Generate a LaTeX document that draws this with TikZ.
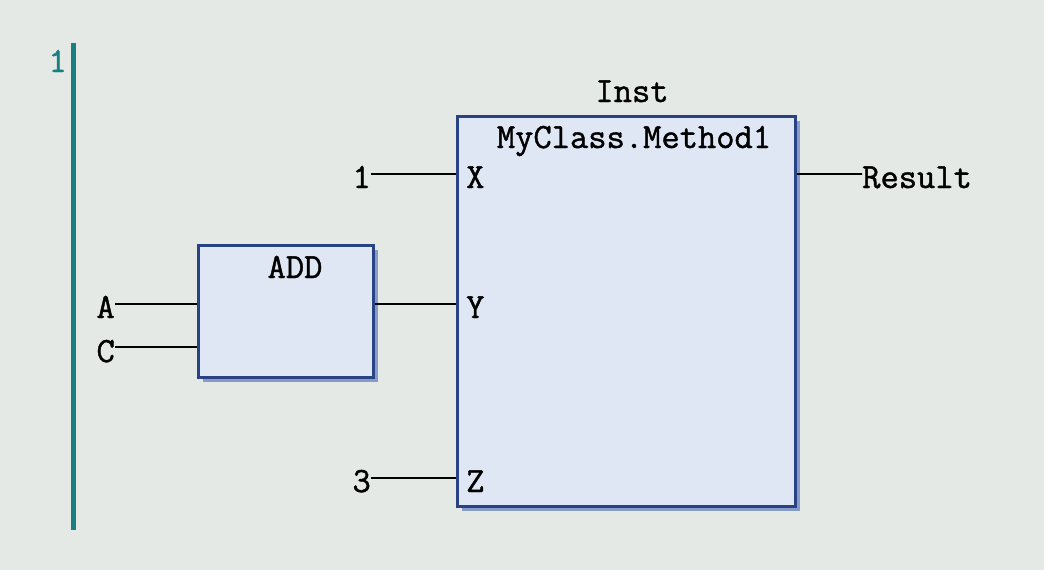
\documentclass[tikz,border=0pt]{standalone}
\usepackage{fontspec}
\newfontfamily\plcfont[FakeBold=1.2]{Latin Modern Mono}
\definecolor{bgc}{RGB}{228,233,230}
\definecolor{railc}{RGB}{24,128,128}
\definecolor{boxfill}{RGB}{223,230,244}
\definecolor{boxline}{RGB}{40,66,132}
\definecolor{shadowc}{RGB}{135,155,200}
\tikzset{
  fbbox/.style={draw=boxline, fill=boxfill, line width=3pt, inner sep=0pt},
  shadowbox/.style={fill=shadowc, draw=none, inner sep=0pt},
  lbl/.style={inner sep=0pt, font=\plcfont\fontsize{35.5}{35.5}\selectfont, text=black},
  wire/.style={line width=2pt, draw=black},
}
\begin{document}
\begin{tikzpicture}[x=1pt,y=-1pt]
\useasboundingbox[fill=bgc] (0,0) rectangle (1044,570);
% rail
\draw[railc, line width=5pt] (73.5,43) -- (73.5,530);
\node[lbl, text=railc, anchor=base east] (netno) at (67,72) {1};
% shadows
\node[shadowbox, minimum width=338pt, minimum height=390pt] (methsh) at (631,316) {};
\node[shadowbox, minimum width=175pt, minimum height=132pt] (addsh) at (290.5,316) {};
% boxes
\node[fbbox, minimum width=338pt, minimum height=390pt] (meth) at (626,311) {};
\node[fbbox, minimum width=175pt, minimum height=132pt] (add) at (285.5,311) {};
% titles
\node[lbl, anchor=base] (inst) at (632,102) {Inst};
\node[lbl, anchor=base] (methname) at (634,148) {MyClass.Method1};
\node[lbl, anchor=base] (addname) at (295,278) {ADD};
% pins of method
\coordinate (pX) at (meth.west |- 0,174);
\coordinate (pY) at (meth.west |- 0,304);
\coordinate (pZ) at (meth.west |- 0,478);
\coordinate (pR) at (meth.east |- 0,174);
\node[lbl, anchor=base west] (nX) at (466,188) {X};
\node[lbl, anchor=base west] (nY) at (466,318) {Y};
\node[lbl, anchor=base west] (nZ) at (466,492) {Z};
% pins of ADD
\coordinate (aA) at (add.west |- 0,304);
\coordinate (aC) at (add.west |- 0,347);
\coordinate (aO) at (add.east |- 0,304);
% inputs/outputs
\node[lbl, anchor=base east] (one) at (371,188) {1};
\node[lbl, anchor=base east] (three) at (371,492) {3};
\node[lbl, anchor=base west] (res) at (862,188) {Result};
\node[lbl, anchor=base east] (inA) at (115,318) {A};
\node[lbl, anchor=base east] (inC) at (115,362) {C};
% wires
\draw[wire] (one.east |- pX) -- (pX);
\draw[wire] (three.east |- pZ) -- (pZ);
\draw[wire] (aO) -- (pY);
\draw[wire] (pR) -- (res.west |- pR) -- ++(-6,0);
\draw[wire] (inA.east |- aA) -- (aA);
\draw[wire] (inC.east |- aC) -- (aC);
\end{tikzpicture}
\end{document}
